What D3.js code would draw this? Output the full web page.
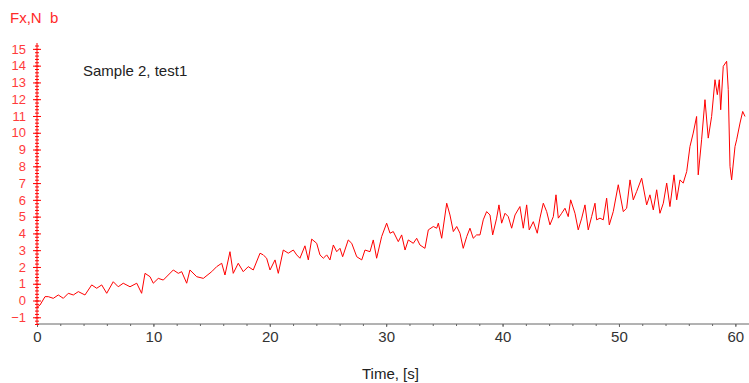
<!DOCTYPE html>
<html>
<head>
<meta charset="utf-8">
<script src="https://cdn.jsdelivr.net/npm/d3@7"></script>
<style>
  body { margin: 0; background: #fff; }
  svg { display: block; }
  text { font-family: "Liberation Sans", Arial, sans-serif; }
</style>
</head>
<body>
<div id="chart"></div>
<script>
// time [s] and force Fx [N]
const time = [
  0, 0.26, 0.69, 0.97, 1.40, 1.83, 2.26, 2.69, 3.12, 3.55,
  4.12, 4.70, 5.13, 5.56, 5.99, 6.55, 6.98, 7.41, 7.99, 8.57,
  8.99, 9.28, 9.71, 9.99, 10.42, 10.85, 11.28, 11.71, 12.14, 12.43,
  12.86, 13.14, 13.72, 14.29, 15.01, 15.44, 15.87, 16.15, 16.58, 16.86,
  17.29, 17.72, 18.15, 18.58, 19.16, 19.44, 19.73, 20.02, 20.45, 20.73,
  21.16, 21.59, 22.02, 22.31, 22.59, 23.02, 23.31, 23.60, 24.03, 24.31,
  24.60, 24.89, 25.17, 25.46, 25.75, 26.03, 26.26, 26.74, 27.04, 27.47,
  27.90, 28.18, 28.61, 28.89, 29.18, 29.61, 30.04, 30.33, 30.61, 31.04,
  31.33, 31.62, 31.90, 32.33, 32.62, 32.90, 33.33, 33.62, 34.05, 34.34,
  34.48, 34.77, 35.20, 35.48, 35.77, 36.06, 36.34, 36.62, 36.92, 37.20,
  37.48, 37.77, 38.06, 38.34, 38.63, 38.92, 39.15, 39.49, 39.69, 39.92,
  40.21, 40.49, 40.78, 41.07, 41.49, 41.78, 42.07, 42.29, 42.64, 42.98,
  43.21, 43.50, 43.79, 44.07, 44.36, 44.59, 44.79, 45.08, 45.36, 45.64,
  45.85, 46.22, 46.50, 46.80, 47.08, 47.36, 47.65, 47.94, 48.08, 48.37,
  48.65, 48.94, 49.17, 49.51, 49.94, 50.37, 50.66, 50.95, 51.23, 51.52,
  51.95, 52.38, 52.66, 52.95, 53.24, 53.52, 53.81, 54.10, 54.38, 54.73,
  54.96, 55.24, 55.52, 55.82, 56.10, 56.38, 56.67, 56.81, 57.10, 57.39,
  57.67, 57.96, 58.25, 58.45, 58.62, 58.74, 58.96, 59.25, 59.39, 59.54,
  59.68, 59.97, 60.11, 60.40, 60.63, 60.83
];
const force = [
  -0.40, -0.27, 0.23, 0.23, 0.13, 0.33, 0.13, 0.43, 0.33, 0.53,
  0.33, 0.93, 0.73, 0.93, 0.43, 1.12, 0.82, 1.03, 0.82, 1.03,
  0.43, 1.62, 1.42, 1.03, 1.32, 1.22, 1.52, 1.82, 1.62, 1.72,
  1.03, 1.82, 1.42, 1.32, 1.72, 2.02, 2.22, 1.52, 2.91, 1.62,
  2.22, 1.72, 2.02, 1.82, 2.82, 2.72, 2.52, 1.82, 2.42, 1.62,
  3.01, 2.82, 3.01, 2.72, 2.52, 3.26, 2.42, 3.66, 3.41, 2.72,
  2.52, 2.72, 2.42, 3.31, 2.91, 3.11, 2.61, 3.61, 3.41, 2.61,
  2.42, 3.01, 2.91, 3.61, 2.52, 3.81, 4.61, 4.01, 4.11, 3.51,
  3.91, 3.01, 3.61, 3.41, 3.71, 3.31, 3.11, 4.21, 4.41, 4.31,
  4.61, 3.71, 5.80, 5.10, 4.11, 4.41, 4.01, 3.11, 3.81, 4.31,
  3.71, 3.91, 3.91, 4.81, 5.30, 5.10, 3.91, 4.91, 5.70, 4.61,
  5.20, 5.00, 4.31, 5.10, 5.60, 4.31, 5.70, 4.21, 4.70, 4.01,
  4.91, 5.80, 5.30, 4.51, 5.00, 6.30, 4.91, 5.20, 5.50, 5.00,
  6.00, 5.20, 4.21, 4.91, 5.70, 4.21, 5.00, 5.80, 4.81, 4.91,
  4.81, 6.10, 4.51, 5.30, 6.90, 5.30, 5.50, 7.19, 6.00, 6.50,
  7.29, 5.70, 6.30, 5.40, 6.60, 5.20, 5.80, 7.00, 5.60, 7.49,
  6.00, 7.19, 7.00, 7.69, 9.18, 9.98, 10.97, 7.49, 9.58, 11.97,
  9.68, 10.97, 13.16, 12.27, 13.16, 11.37, 13.96, 14.26, 12.57, 7.99,
  7.19, 9.18, 9.58, 10.58, 11.27, 10.97
];
const xTickLabels = [0, 10, 20, 30, 40, 50, 60];
const yTickLabels = [-1, 0, 1, 2, 3, 4, 5, 6, 7, 8, 9, 10, 11, 12, 13, 14, 15];

const width = 749;
const height = 383;
const red = "#ff0000";

const svg = d3.select("#chart").append("svg")
  .attr("width", width)
  .attr("height", height);

const x = d3.scaleLinear().domain([0, 61]).range([37, 747]);
const y = d3.scaleLinear().domain([-1.4, 15.35]).range([324, 43]);

// x axis: minor ticks every 2 s, labelled ticks every 10 s
const xMinor = d3.range(0, 62, 2);
svg.append("g")
  .attr("transform", `translate(0,324)`)
  .call(d3.axisBottom(x).tickValues(xMinor).tickSize(2).tickSizeOuter(0).tickFormat(""))
  .call(g => g.select(".domain").attr("stroke", "#666").attr("d", "M37,0H749"))
  .call(g => g.selectAll(".tick line").attr("stroke", "#666"));

svg.append("g")
  .attr("transform", `translate(0,324)`)
  .call(d3.axisBottom(x).tickValues(xTickLabels).tickSize(3).tickPadding(4).tickSizeOuter(0))
  .call(g => g.select(".domain").remove())
  .call(g => g.selectAll(".tick line").attr("stroke", "#666"))
  .call(g => g.selectAll(".tick text")
    .attr("fill", "#333")
    .attr("font-size", 15)
    .attr("font-family", "Liberation Sans, Arial, sans-serif"));

// y axis in red, ticks crossing the line
const yMinor = d3.range(-7, 77).map(i => i / 5);
svg.append("g")
  .attr("transform", `translate(37,0)`)
  .call(d3.axisLeft(y).tickValues(yMinor).tickSize(2).tickSizeOuter(0).tickFormat(""))
  .call(g => g.select(".domain").attr("stroke", red).attr("d", "M0,43V324"))
  .call(g => g.selectAll(".tick line").attr("stroke", red).attr("x1", 2));

svg.append("g")
  .attr("transform", `translate(37,0)`)
  .call(d3.axisLeft(y).tickValues(yTickLabels).tickSize(4).tickPadding(7).tickSizeOuter(0))
  .call(g => g.select(".domain").remove())
  .call(g => g.selectAll(".tick line").attr("stroke", red).attr("x1", 4))
  .call(g => g.selectAll(".tick text")
    .attr("fill", "#ff3b3b")
    .attr("font-size", 13)
    .attr("font-family", "Liberation Sans, Arial, sans-serif"));

// force trace
const line = d3.line()
  .x((d, i) => x(time[i]))
  .y(d => y(d));

svg.append("path")
  .datum(force)
  .attr("fill", "none")
  .attr("stroke", red)
  .attr("stroke-width", 1)
  .attr("d", line);

// labels
svg.append("text")
  .attr("x", 10)
  .attr("y", 23)
  .attr("fill", "#ff2a2a")
  .attr("font-size", 15)
  .style("white-space", "pre")
  .text("Fx,N  b");

svg.append("text")
  .attr("x", 83)
  .attr("y", 76)
  .attr("fill", "#222")
  .attr("font-size", 15)
  .text("Sample 2, test1");

svg.append("text")
  .attr("x", 362)
  .attr("y", 379)
  .attr("fill", "#222")
  .attr("font-size", 15)
  .text("Time, [s]");
</script>
</body>
</html>
